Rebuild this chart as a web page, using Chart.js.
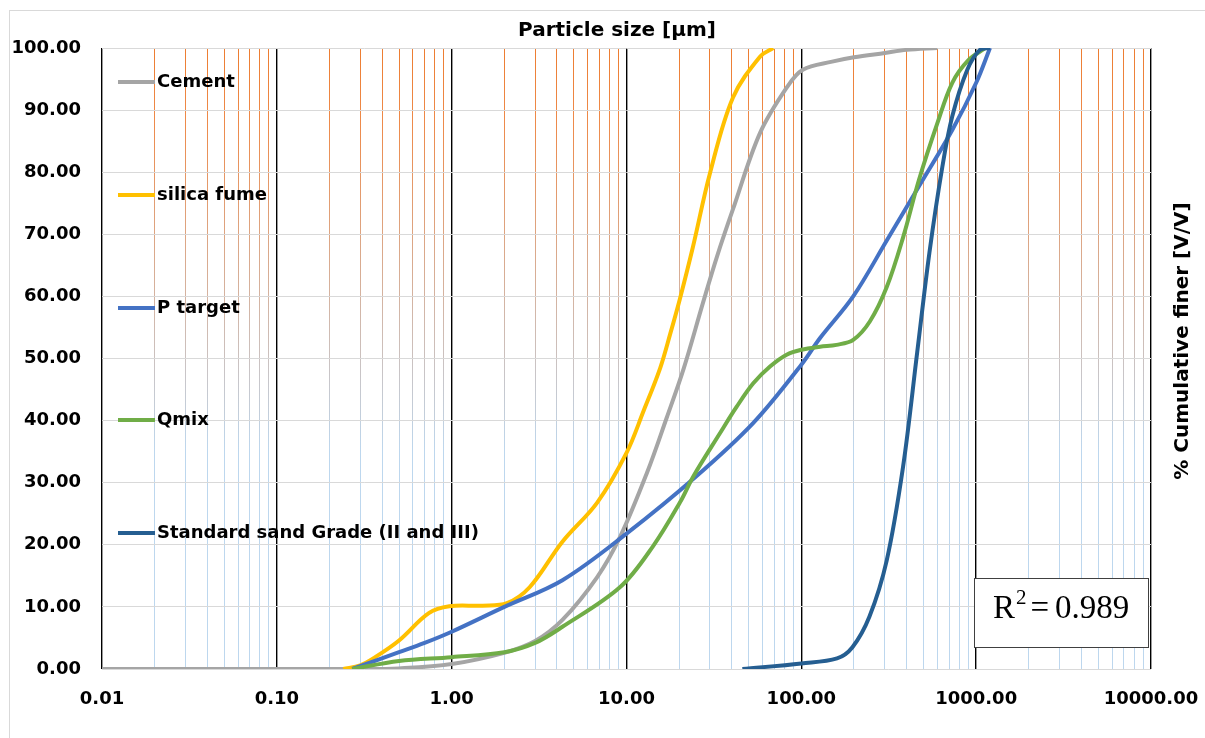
<!DOCTYPE html>
<html>
<head>
<meta charset="utf-8">
<script src="https://cdn.jsdelivr.net/npm/chart.js@4"></script>
<style>
  body { margin: 0; background: #fff; }
  canvas { display: block; }
</style>
</head>
<body>
<canvas id="psd" width="1205" height="738"></canvas>
<script>
// particle size [um] and % finer for each curve
const cementX = [0.01, 0.1, 0.3, 0.5, 1, 2, 3, 4.3, 6.8, 9.2, 13.1, 17, 21.3, 27.4, 33, 40.6, 58, 82.8, 102, 150, 200, 300, 400, 600];
const cementY = [0, 0, 0, 0.1, 0.8, 2.6, 4.5, 7.9, 14.8, 21.3, 31.6, 40.5, 48.5, 59, 66.5, 74, 86.3, 93.7, 96.5, 97.8, 98.5, 99.2, 99.7, 100];

const silicaX = [0.24, 0.3, 0.36, 0.5, 0.74, 0.97, 1.5, 2.07, 2.8, 4.3, 6.8, 10, 12.5, 15.6, 17.8, 20.2, 24, 30, 40.6, 58, 69];
const silicaY = [0, 0.6, 1.8, 4.6, 9.0, 10.1, 10.2, 10.6, 13.2, 20.5, 26.8, 34.8, 41.5, 48.5, 54, 59.6, 68, 79.8, 92, 98.6, 100];

const targetX = [0.27, 0.5, 0.7, 1, 2, 4.3, 10, 25, 53, 100, 128, 198, 308, 470, 730, 1000, 1200];
const targetY = [0, 2.7, 4.2, 6, 10, 14.3, 21.8, 31, 39.6, 49, 53.3, 60, 69, 77.7, 86.8, 94.4, 100];

const qmixX = [0.27, 0.5, 1, 2, 3, 4.3, 9.2, 14.2, 20.2, 24.1, 34.3, 42.6, 53.1, 66.2, 82.4, 100, 128, 159, 198, 247, 308, 382, 470, 600, 730, 900, 1130];
const qmixY = [0, 1.3, 1.9, 2.7, 4.2, 6.8, 13.2, 19.8, 26.8, 31, 38, 42.2, 46, 48.7, 50.6, 51.4, 51.9, 52.2, 53, 56, 61.5, 69.5, 78.7, 87.9, 94.4, 98, 100];

const sandX = [46, 100, 160, 196, 245, 308, 382, 460, 540, 640, 730, 890, 1050, 1200];
const sandY = [0, 0.9, 1.7, 3.5, 8.4, 17.5, 32.6, 51, 67, 80.8, 89, 96.5, 99.7, 100];

const seriesNames = ['Cement', 'silica fume', 'P target', 'Qmix', 'Standard sand Grade (II and III)'];
const seriesColors = ['#A5A5A5', '#FFC000', '#4472C4', '#70AD47', '#255E91'];

// x axis: decades get a label, 2..9 multiples are plain grid lines
const xDecades = [0.01, 0.1, 1, 10, 100, 1000, 10000];
const xMinorSteps = [2, 3, 4, 5, 6, 7, 8, 9];
const xTickLabels = ['0.01', '0.10', '1.00', '10.00', '100.00', '1000.00', '10000.00'];
const yTicks = [0, 10, 20, 30, 40, 50, 60, 70, 80, 90, 100];

const rSquared = '0.989';

const FONT = '"DejaVu Sans", sans-serif';

function points(xs, ys) {
  return xs.map(function (x, i) { return { x: x, y: ys[i] }; });
}

const allSeries = [[cementX, cementY], [silicaX, silicaY], [targetX, targetY], [qmixX, qmixY], [sandX, sandY]];

const datasets = allSeries.map(function (s, i) {
  return {
    label: seriesNames[i],
    data: points(s[0], s[1]),
    borderColor: seriesColors[i],
    backgroundColor: seriesColors[i],
    borderWidth: 4,
    pointRadius: 0,
    tension: 0.35,
    fill: false,
    order: allSeries.length - i // later series on top, like Excel
  };
});

function isDecade(v) {
  const l = Math.log10(v);
  return Math.abs(l - Math.round(l)) < 1e-9;
}

let minorGradient = null;
function minorColor(chart) {
  const area = chart.chartArea;
  if (!area) return '#BDD7EE';
  if (!minorGradient) {
    minorGradient = chart.ctx.createLinearGradient(0, area.top, 0, area.bottom);
    minorGradient.addColorStop(0, '#ED7D31');
    minorGradient.addColorStop(0.12, '#EE8A4A');
    minorGradient.addColorStop(0.65, '#BDD7EE');
    minorGradient.addColorStop(1, '#BDD7EE');
  }
  return minorGradient;
}

// page frame, titles, legend and R^2 box
const decorations = {
  id: 'decorations',
  beforeDraw: function (chart) {
    const ctx = chart.ctx;
    ctx.save();
    ctx.fillStyle = '#fff';
    ctx.fillRect(0, 0, chart.width, chart.height);
    ctx.strokeStyle = '#D9D9D9';
    ctx.lineWidth = 1;
    ctx.strokeRect(9.5, 10.5, 1210, 740);
    ctx.restore();
  },
  afterDraw: function (chart) {
    const ctx = chart.ctx;
    ctx.save();

    // top title
    ctx.fillStyle = '#000';
    ctx.font = 'bold 20px ' + FONT;
    ctx.textAlign = 'center';
    ctx.textBaseline = 'middle';
    ctx.fillText('Particle size [\u00b5m]', 617, 31);

    // right title
    ctx.save();
    ctx.translate(1183, 341);
    ctx.rotate(-Math.PI / 2);
    ctx.fillText('% Cumulative finer [V/V]', 0, 0);
    ctx.restore();

    // legend inside plot
    const legendY = [82, 195, 308, 420, 533];
    ctx.font = 'bold 18px ' + FONT;
    ctx.textAlign = 'left';
    chart.data.datasets.forEach(function (ds, i) {
      ctx.strokeStyle = ds.borderColor;
      ctx.lineWidth = 4;
      ctx.beginPath();
      ctx.moveTo(118, legendY[i]);
      ctx.lineTo(155, legendY[i]);
      ctx.stroke();
      ctx.fillStyle = '#000';
      ctx.fillText(ds.label, 157, legendY[i]);
    });

    // R^2 box
    const bx = 974.5, by = 578.5, bw = 174, bh = 69;
    ctx.fillStyle = '#fff';
    ctx.fillRect(bx, by, bw, bh);
    ctx.strokeStyle = '#404040';
    ctx.lineWidth = 1;
    ctx.strokeRect(bx, by, bw, bh);
    ctx.fillStyle = '#000';
    ctx.textBaseline = 'alphabetic';
    ctx.font = '33px "Liberation Serif", serif';
    let x = 993;
    const base = 618;
    ctx.fillText('R', x, base);
    x += ctx.measureText('R').width;
    ctx.font = '21px "Liberation Serif", serif';
    ctx.fillText('2', x + 1, base - 14);
    x += ctx.measureText('2').width + 5;
    ctx.font = '33px "Liberation Serif", serif';
    ctx.fillText('=', x, base);
    x += ctx.measureText('=').width + 6;
    ctx.fillText(rSquared, x, base);

    ctx.restore();
  }
};

new Chart(document.getElementById('psd'), {
  type: 'line',
  data: { datasets: datasets },
  plugins: [decorations],
  options: {
    responsive: false,
    animation: false,
    layout: { padding: { left: 0, right: 54, top: 48, bottom: 0 } },
    plugins: {
      legend: { display: false },
      tooltip: { enabled: false }
    },
    scales: {
      x: {
        type: 'logarithmic',
        min: 0.01,
        max: 10000,
        afterBuildTicks: function (axis) {
          const ticks = [];
          xDecades.forEach(function (d, i) {
            ticks.push({ value: d });
            if (i < xDecades.length - 1) {
              xMinorSteps.forEach(function (m) { ticks.push({ value: d * m }); });
            }
          });
          axis.ticks = ticks;
        },
        afterFit: function (scale) {
          scale.height = 69;
          scale.paddingLeft = 0;
          scale.paddingRight = 0;
        },
        border: { display: false },
        grid: {
          drawTicks: false,
          color: function (ctx) {
            if (ctx.tick && isDecade(ctx.tick.value)) return '#000';
            return minorColor(ctx.chart);
          },
          lineWidth: function (ctx) {
            return ctx.tick && isDecade(ctx.tick.value) ? 1.4 : 1;
          }
        },
        ticks: {
          autoSkip: false,
          maxRotation: 0,
          padding: 20,
          color: '#000',
          font: { family: FONT, size: 18, weight: 'bold' },
          callback: function (value) {
            const i = xDecades.findIndex(function (d) { return Math.abs(d - value) < d * 1e-6; });
            return i >= 0 ? xTickLabels[i] : '';
          }
        }
      },
      y: {
        min: 0,
        max: 100,
        afterBuildTicks: function (axis) {
          axis.ticks = yTicks.map(function (v) { return { value: v }; });
        },
        afterFit: function (scale) {
          scale.width = 102;
          scale.paddingTop = 0;
          scale.paddingBottom = 0;
        },
        border: { display: false },
        grid: { drawTicks: false, color: '#D9D9D9', lineWidth: 1 },
        ticks: {
          padding: 21,
          color: '#000',
          font: { family: FONT, size: 18, weight: 'bold' },
          callback: function (v) { return v.toFixed(2); }
        }
      }
    }
  }
});
</script>
</body>
</html>
